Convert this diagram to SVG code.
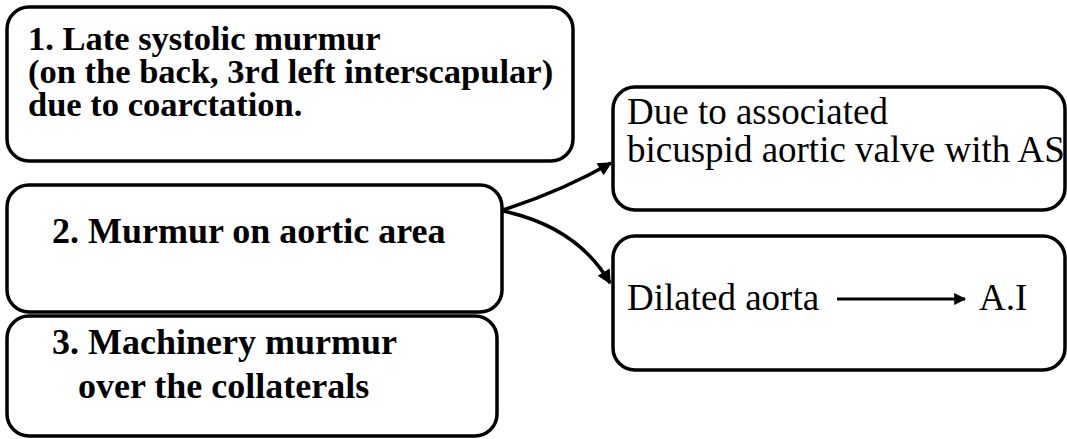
<svg xmlns="http://www.w3.org/2000/svg" width="1067" height="439" viewBox="0 0 1067 439">
<defs>
<style>
.box{fill:#fff;stroke:#000;stroke-width:3.5}
.b{font-family:"Liberation Serif","Times New Roman",serif;font-weight:bold;font-size:34.5px;fill:#000}
.b2{font-family:"Liberation Serif","Times New Roman",serif;font-weight:bold;font-size:36px;fill:#000}
.r{font-family:"Liberation Serif","Times New Roman",serif;font-size:37px;fill:#000}
.c{fill:none;stroke:#000;stroke-width:3.5}
.c2{fill:none;stroke:#000;stroke-width:3}
</style>
<marker id="ah" viewBox="0 0 10 10" refX="9" refY="5" markerWidth="5" markerHeight="4" orient="auto" markerUnits="strokeWidth">
<path d="M0,0 L10,5 L0,10 z" fill="#000"/>
</marker>
<marker id="ah2" viewBox="0 0 10 10" refX="9" refY="5" markerWidth="5.5" markerHeight="4" orient="auto" markerUnits="strokeWidth">
<path d="M0,0 L10,5 L0,10 z" fill="#000"/>
</marker>
</defs>
<rect width="1067" height="439" fill="#fff"/>
<g id="node1">
<rect class="box" x="7" y="7" width="566" height="154" rx="22"/>
<text class="b" x="28" y="50">1. Late systolic murmur</text>
<text class="b" x="28" y="83">(on the back, 3rd left interscapular)</text>
<text class="b" x="28" y="116">due to coarctation.</text>
</g>
<g id="node2">
<rect class="box" x="7" y="185" width="495" height="127" rx="22"/>
<text class="b2" x="52" y="243">2. Murmur on aortic area</text>
</g>
<g id="node3">
<rect class="box" x="7" y="316" width="490" height="120" rx="22"/>
<text class="b2" x="52" y="354">3. Machinery murmur</text>
<text class="b2" x="78" y="398">over the collaterals</text>
</g>
<g id="nodeA">
<rect class="box" x="613" y="87" width="452" height="123" rx="22"/>
<text class="r" x="627" y="124">Due to associated</text>
<text class="r" x="627" y="162">bicuspid aortic valve with AS</text>
</g>
<g id="nodeB">
<rect class="box" x="613" y="236" width="452" height="134" rx="22"/>
<text class="r" x="627" y="310">Dilated aorta</text>
<text class="r" x="979" y="310">A.I</text>
</g>
<g id="connectors">
<path class="c" d="M503,210 Q562,191 611,163" marker-end="url(#ah)"/>
<path class="c" d="M503,211 C545,220 585,240 610,283" marker-end="url(#ah)"/>
<path class="c2" d="M837,299 L965,299" marker-end="url(#ah2)"/>
</g>
</svg>
